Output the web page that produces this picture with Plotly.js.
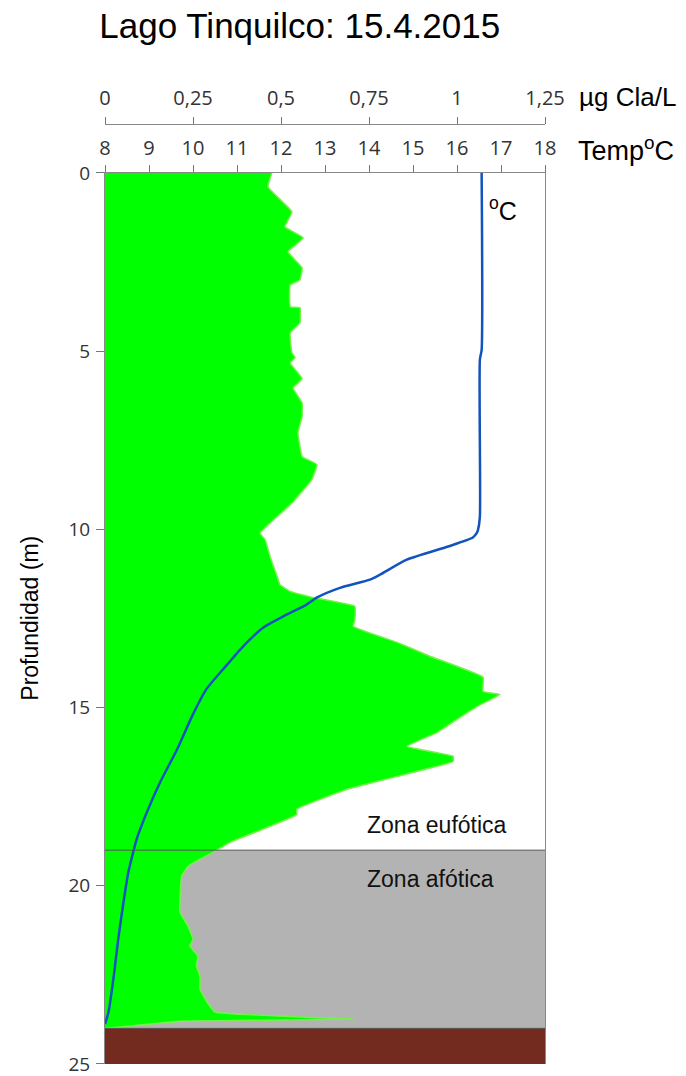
<!DOCTYPE html>
<html>
<head>
<meta charset="utf-8">
<script src="https://cdn.plot.ly/plotly-3.0.1.min.js"></script>
<style>html,body{margin:0;padding:0;background:#fff;}#chart{width:686px;height:1076px;}</style>
</head>
<body>
<div id="chart"></div>
<script>
// Chlorophyll profile (µg Cla/L) vs depth (m)
const chlDepth = [0, 0.39, 1.09, 1.51, 1.82, 2.21, 2.66, 3.0, 3.14, 3.75,
  3.78, 4.2, 4.48, 5.04, 5.18, 5.33, 5.77, 6.03, 6.45, 6.83,
  7.29, 7.68, 7.96, 8.18, 8.6, 9.26, 9.82, 10.1, 10.29, 10.76,
  11.32, 11.55, 11.74, 11.91, 12.16, 12.53, 12.72, 13.17, 13.56, 14.15,
  14.55, 14.63, 14.97, 15.33, 15.7, 16.09, 16.37, 16.51, 16.93, 17.29,
  17.85, 18.0, 18.33, 18.78, 19.06, 19.25, 19.45, 19.73, 20.74, 21.13,
  21.5, 21.69, 21.97, 22.25, 22.53, 22.9, 23.26, 23.54, 23.74, 23.8,
  23.88, 23.96, 24.0];
const chlValues = [0.474, 0.463, 0.531, 0.511, 0.563, 0.52, 0.56, 0.554, 0.526, 0.526,
  0.554, 0.554, 0.526, 0.531, 0.54, 0.526, 0.56, 0.534, 0.56, 0.56,
  0.548, 0.554, 0.56, 0.602, 0.588, 0.531, 0.469, 0.44, 0.455, 0.469,
  0.489, 0.497, 0.526, 0.591, 0.71, 0.71, 0.705, 0.83, 0.923, 1.074,
  1.074, 1.122, 1.057, 1.0, 0.943, 0.858, 0.989, 0.989, 0.83, 0.688,
  0.545, 0.545, 0.469, 0.355, 0.307, 0.27, 0.236, 0.218, 0.213, 0.236,
  0.25, 0.241, 0.264, 0.26, 0.27, 0.27, 0.29, 0.313, 0.705, 0.213,
  0.128, 0.043, 0.0];

// Temperature profile (°C) vs depth (m)
const tempDepth = [0, 4.96, 5.24, 9.64, 10.0, 10.1, 10.23, 10.48, 10.85, 11.27,
  11.41, 11.64, 11.91, 12.11, 12.44, 12.75, 13.28, 13.93, 14.49, 15.24,
  16.17, 17.1, 17.94, 18.69, 19.06, 19.62, 20.46, 21.5, 22.62, 23.54, 23.88];
const tempValues = [16.56, 16.56, 16.52, 16.52, 16.48, 16.45, 16.36, 15.8, 14.86, 14.25,
  14.02, 13.34, 12.82, 12.58, 12.05, 11.6, 11.14, 10.68, 10.3, 9.98,
  9.64, 9.25, 8.95, 8.72, 8.64, 8.53, 8.42, 8.3, 8.19, 8.08, 8.0];

// Axis ticks
const depthTicks = [0, 5, 10, 15, 20, 25];
const tempTicks = [8, 9, 10, 11, 12, 13, 14, 15, 16, 17, 18];
const chlTicks = [0, 0.25, 0.5, 0.75, 1, 1.25];
const chlTickLabels = ['0', '0,25', '0,5', '0,75', '1', '1,25'];

// Zones (depth, m)
const euphoticLimit = 19;
const sedimentTop = 24;
const maxDepth = 25;

const tickFont = {family: 'Open Sans, sans-serif', size: 20, color: '#333'};
const yTickFont = {family: 'Open Sans, sans-serif', size: 19, color: '#333'};
const arial = 'Liberation Sans, Arial, sans-serif';

const traces = [
  {
    x: chlValues, y: chlDepth, xaxis: 'x', yaxis: 'y',
    type: 'scatter', mode: 'lines', fill: 'tozerox',
    fillcolor: '#00ff00', line: {color: '#74f24a', width: 1.5, shape: 'spline', smoothing: 0.3},
    hoverinfo: 'skip', showlegend: false
  },
  {
    x: tempValues, y: tempDepth, xaxis: 'x2', yaxis: 'y',
    type: 'scatter', mode: 'lines',
    line: {color: '#1253bd', width: 2.5, shape: 'spline', smoothing: 0.6},
    hoverinfo: 'skip', showlegend: false
  }
];

// plot area: top at y=173 px, bottom at y=1064 px
const yTop = 0.9055;
const layout = {
  width: 686, height: 1076,
  margin: {l: 105, r: 141, t: 80, b: 12},
  paper_bgcolor: '#fff', plot_bgcolor: '#fff',
  showlegend: false,
  title: {
    text: 'Lago Tinquilco: 15.4.2015',
    font: {family: arial, size: 35, color: '#000'},
    xref: 'container', yref: 'container',
    x: 0.437, xanchor: 'center', y: 0.976, yanchor: 'middle'
  },
  xaxis: {
    range: [0, 1.25], side: 'top', anchor: 'free', position: 0.9553,
    tickvals: chlTicks, ticktext: chlTickLabels,
    ticks: 'outside', ticklen: 7, tickcolor: '#777', ticklabelstandoff: 4,
    showline: true, linecolor: '#888', linewidth: 1, ticklabeloverflow: 'allow',
    showgrid: false, zeroline: false, tickfont: tickFont, fixedrange: true
  },
  xaxis2: {
    range: [8, 18], side: 'top', overlaying: 'x', anchor: 'y',
    tickvals: tempTicks, ticks: 'outside', ticklen: 7, tickcolor: '#777', ticklabelstandoff: 2,
    showline: true, linecolor: '#888', linewidth: 1, ticklabeloverflow: 'allow',
    showgrid: false, zeroline: false, tickfont: tickFont, fixedrange: true
  },
  yaxis: {
    domain: [0, yTop], range: [maxDepth, 0],
    tickvals: depthTicks, ticks: 'outside', ticklen: 8, tickcolor: '#777', ticklabelstandoff: 2,
    showline: true, mirror: true, linecolor: '#888', linewidth: 1, ticklabeloverflow: 'allow',
    showgrid: false, zeroline: false, tickfont: yTickFont, fixedrange: true
  },
  shapes: [
    {type: 'rect', xref: 'paper', yref: 'y', x0: 0, x1: 1, y0: euphoticLimit, y1: sedimentTop,
     fillcolor: '#b3b3b3', line: {width: 0}, layer: 'below'},
    {type: 'rect', xref: 'paper', yref: 'y', x0: 0, x1: 1, y0: sedimentTop, y1: maxDepth,
     fillcolor: '#722b1e', line: {width: 0}, layer: 'above'},
    {type: 'line', xref: 'paper', yref: 'y', x0: 0, x1: 1, y0: euphoticLimit, y1: euphoticLimit,
     line: {color: '#555', width: 1}, layer: 'above'},
    {type: 'line', xref: 'paper', yref: 'y', x0: 0, x1: 1, y0: sedimentTop, y1: sedimentTop,
     line: {color: '#555', width: 1}, layer: 'above'}
  ],
  annotations: [
    {text: 'µg Cla/L', xref: 'paper', yref: 'paper', x: 1.073, y: 0.9827,
     xanchor: 'left', yanchor: 'middle', showarrow: false,
     font: {family: arial, size: 26, color: '#000'}},
    {text: 'Temp<sup>o</sup>C', xref: 'paper', yref: 'paper', x: 1.071, y: 0.930,
     xanchor: 'left', yanchor: 'middle', showarrow: false,
     font: {family: arial, size: 27, color: '#000'}},
    {text: '<sup>o</sup>C', xref: 'x2', yref: 'y', x: 16.68, y: 1.0,
     xanchor: 'left', yanchor: 'middle', showarrow: false,
     font: {family: arial, size: 25, color: '#000'}},
    {text: 'Zona eufótica', xref: 'x2', yref: 'y', x: 15.55, y: 18.3,
     xanchor: 'center', yanchor: 'middle', showarrow: false,
     font: {family: arial, size: 23, color: '#111'}},
    {text: 'Zona afótica', xref: 'x2', yref: 'y', x: 15.39, y: 19.8,
     xanchor: 'center', yanchor: 'middle', showarrow: false,
     font: {family: arial, size: 23, color: '#111'}},
    {text: 'Profundidad (m)', xref: 'paper', yref: 'paper', x: -0.17, y: yTop / 2,
     xanchor: 'center', yanchor: 'middle', textangle: -90, showarrow: false,
     font: {family: arial, size: 23, color: '#000'}}
  ]
};

Plotly.newPlot('chart', traces, layout, {displayModeBar: false, staticPlot: true});
</script>
</body>
</html>
